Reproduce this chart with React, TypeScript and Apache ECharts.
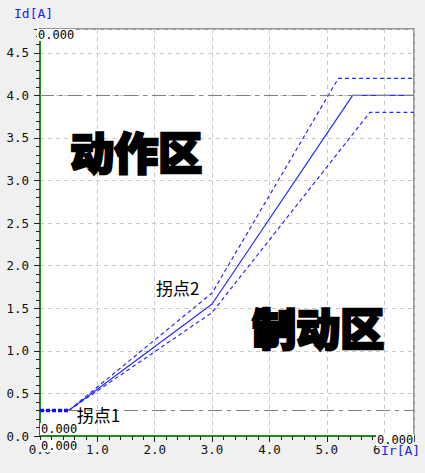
import { useEffect, useRef } from 'react';
import * as echarts from 'echarts';

// 特性曲线数据
const mainX = [0.5, 3.0, 5.45, 6.52];
const mainY = [0.3, 1.55, 4.0, 4.0];
const upperX = [0.5, 3.0, 5.2, 6.52];
const upperY = [0.3, 1.68, 4.2, 4.2];
const lowerX = [0.5, 3.0, 5.75, 6.52];
const lowerY = [0.3, 1.45, 3.8, 3.8];
const flatX = [0, 0.5];
const flatY = [0.3, 0.3];
const refLines = [4.0, 0.3];
const knees = [
  { name: '拐点1', x: 0.5, y: 0.3 },
  { name: '拐点2', x: 3.0, y: 1.55 },
];

const X_MAX = 6.52;
const Y_MAX = 4.78;
const MONO = '"DejaVu Sans Mono", monospace';
const CJK = '"Noto Sans CJK SC", sans-serif';

const zip = (xs: number[], ys: number[]) => xs.map((x, i) => [x, ys[i]]);

export default function App() {
  const chartRef = useRef<HTMLDivElement>(null);

  useEffect(() => {
    if (!chartRef.current) return;
    const chart = echarts.init(chartRef.current, undefined, { renderer: 'svg' });

    const readout = (left: number, top: number) => ({
      type: 'text',
      left,
      top,
      z: 100,
      style: {
        text: '0.000',
        fill: '#000',
        font: `12px ${MONO}`,
        backgroundColor: '#fff',
        padding: [0, 1, 0, 1],
      },
    });

    const zoneText = (text: string, left: number, top: number) => ({
      type: 'text',
      left,
      top,
      z: 50,
      style: {
        text,
        fill: '#000',
        stroke: '#000',
        lineWidth: 2.5,
        font: `900 44px ${CJK}`,
      },
    });

    const option: echarts.EChartsOption = {
      animation: false,
      backgroundColor: '#f0f0f0',
      grid: {
        left: 40,
        top: 29,
        right: 11,
        bottom: 37,
        show: true,
        backgroundColor: '#fff',
        borderColor: '#9a9a9a',
        borderWidth: 2,
      },
      xAxis: {
        type: 'value',
        min: 0,
        max: X_MAX,
        interval: 1,
        axisLine: { show: true, onZero: false, lineStyle: { color: '#1e8c1e', width: 2 } },
        axisTick: { show: true, length: 6, lineStyle: { color: '#222' } },
        minorTick: { show: true, splitNumber: 5, length: 4, lineStyle: { color: '#222' } },
        axisLabel: {
          color: '#111',
          fontFamily: MONO,
          fontSize: 12.5,
          margin: 7,
          showMaxLabel: false,
          formatter: (v: number) => (Math.abs(v - Math.round(v)) < 1e-6 ? v.toFixed(1) : ''),
        },
        splitLine: { show: true, lineStyle: { color: '#c8c8c8', type: [4, 4] } },
      },
      yAxis: {
        type: 'value',
        min: 0,
        max: Y_MAX,
        interval: 0.5,
        axisLine: { show: true, onZero: false, lineStyle: { color: '#1e8c1e', width: 2 } },
        axisTick: { show: true, length: 6, lineStyle: { color: '#222' } },
        minorTick: { show: true, splitNumber: 5, length: 4, lineStyle: { color: '#222' } },
        axisLabel: {
          color: '#111',
          fontFamily: MONO,
          fontSize: 12.5,
          margin: 11,
          showMaxLabel: false,
          formatter: (v: number) => (Math.abs(v * 2 - Math.round(v * 2)) < 1e-6 ? v.toFixed(1) : ''),
        },
        splitLine: { show: true, lineStyle: { color: '#c8c8c8', type: [4, 4] } },
      },
      series: [
        {
          name: 'main',
          type: 'line',
          data: zip(mainX, mainY),
          symbol: 'none',
          lineStyle: { color: '#2a2aff', width: 1.2 },
          markLine: {
            silent: true,
            symbol: 'none',
            label: { show: false },
            lineStyle: { color: '#808080', width: 1.2, type: [14, 5, 4, 5] },
            data: refLines.map(v => ({ yAxis: v })),
          },
          markPoint: {
            silent: true,
            symbol: 'circle',
            symbolSize: 0,
            data: knees.map((k, i) => ({
              name: k.name,
              coord: [k.x, k.y],
              label: {
                show: true,
                formatter: k.name,
                position: i === 0 ? [8, -4] : [-56, -25],
                color: '#000',
                fontFamily: CJK,
                fontSize: 17,
              },
            })),
          },
        },
        {
          name: 'upper',
          type: 'line',
          data: zip(upperX, upperY),
          symbol: 'none',
          lineStyle: { color: '#2a2aff', width: 1.2, type: [4, 3] },
        },
        {
          name: 'lower',
          type: 'line',
          data: zip(lowerX, lowerY),
          symbol: 'none',
          lineStyle: { color: '#2a2aff', width: 1.2, type: [4, 3] },
        },
        {
          name: 'flat',
          type: 'line',
          z: 5,
          data: zip(flatX, flatY),
          symbol: 'none',
          lineStyle: { color: '#1010f0', width: 3.5, type: [4, 2] },
        },
      ],
      graphic: [
        {
          type: 'text',
          left: 14,
          top: 7,
          style: { text: 'Id[A]', fill: '#2222ee', font: `13px ${MONO}` },
        },
        readout(37, 29),
        readout(40, 423),
        readout(40, 440),
        readout(376, 434),
        {
          type: 'text',
          left: 381,
          top: 444,
          z: 101,
          style: {
            text: 'Ir[A]',
            fill: '#2222ee',
            font: `13px ${MONO}`,
            backgroundColor: '#f0f0f0',
          },
        },
        zoneText('动作区', 69, 128),
        zoneText('制动区', 251, 304),
      ],
    };

    chart.setOption(option);
    return () => {
      chart.dispose();
    };
  }, []);

  return (
    <div
      ref={chartRef}
      style={{ position: 'fixed', left: 0, top: 0, width: 425, height: 473, background: '#f0f0f0' }}
    />
  );
}
